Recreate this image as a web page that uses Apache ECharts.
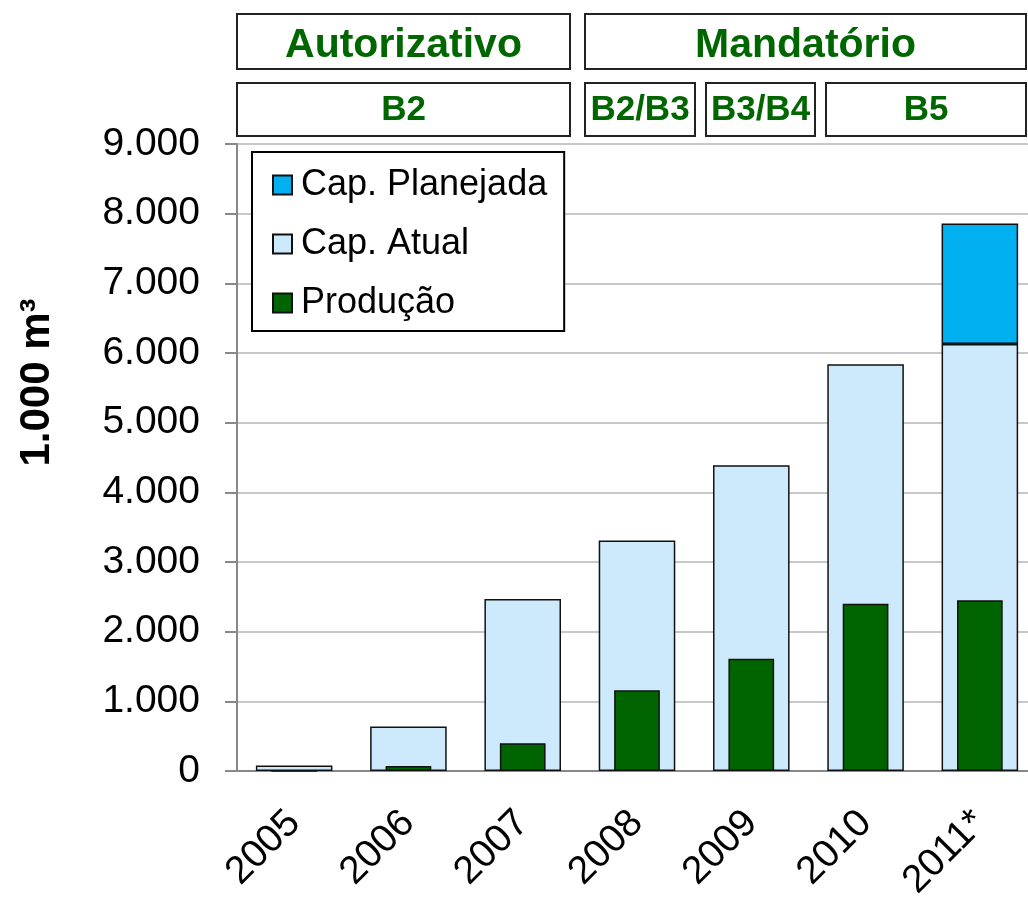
<!DOCTYPE html>
<html>
<head>
<meta charset="utf-8">
<script src="https://cdn.jsdelivr.net/npm/echarts@6/dist/echarts.min.js"></script>
<style>
  html, body { margin: 0; padding: 0; background: #fff; }
  #chart { width: 1028px; height: 900px; }
</style>
</head>
<body>
<div id="chart"></div>
<script>
// dados
var anos = ['2005', '2006', '2007', '2008', '2009', '2010', '2011*'];
var capAtual = [80, 640, 2470, 3310, 4390, 5840, 6130];
var capPlanejada = [null, null, null, null, null, null, 1730];
var producao = [1, 70, 400, 1160, 1610, 2400, 2450];
var rotulosY = ['0', '1.000', '2.000', '3.000', '4.000', '5.000', '6.000', '7.000', '8.000', '9.000'];
var regimes = ['Autorizativo', 'Mandatório'];
var misturas = ['B2', 'B2/B3', 'B3/B4', 'B5'];

var fonte = '"Liberation Sans", Arial, sans-serif';
var verde = '#006600';

// caixa de cabeçalho (retângulo + texto)
function caixa(x, y, w, h, texto, tam, dy) {
  return {
    type: 'group',
    children: [
      { type: 'rect', shape: { x: x, y: y, width: w, height: h },
        style: { fill: '#fff', stroke: '#222', lineWidth: 2 } },
      { type: 'text', x: x + w / 2, y: y + h / 2 + (dy || 0),
        style: { text: texto, fill: verde, font: 'bold ' + tam + 'px ' + fonte,
                 align: 'center', verticalAlign: 'middle' } }
    ]
  };
}

var myChart = echarts.init(document.getElementById('chart'));

var option = {
  animation: false,
  grid: { left: 237, top: 144, width: 800, height: 627, outerBoundsMode: 'none' },
  legend: {
    orient: 'vertical',
    left: 252,
    top: 152,
    padding: [15, 17, 10, 20],
    itemGap: 23,
    itemWidth: 19,
    itemHeight: 19,
    icon: 'rect',
    backgroundColor: '#fff',
    borderColor: '#000',
    borderWidth: 2,
    textStyle: { fontFamily: fonte, fontSize: 36, color: '#000', padding: [0, 0, 0, 4] },
    data: ['Cap. Planejada', 'Cap. Atual', 'Produção']
  },
  xAxis: [
    {
      type: 'category',
      data: anos,
      axisLine: { lineStyle: { color: '#888', width: 2 } },
      axisTick: { length: 12, lineStyle: { color: '#888', width: 2 } },
      axisLabel: { rotate: 45, margin: 46, fontFamily: fonte, fontSize: 39, color: '#000' }
    },
    {
      type: 'category',
      data: anos,
      show: false
    }
  ],
  yAxis: {
    type: 'value',
    min: 0,
    max: 9000,
    interval: 1000,
    name: '1.000 m³',
    nameLocation: 'middle',
    nameRotate: 90,
    nameGap: 179,
    nameTextStyle: { fontFamily: fonte, fontSize: 42, fontWeight: 'bold', color: '#000', padding: [0, 0, 0, 150] },
    axisLine: { show: true, lineStyle: { color: '#888', width: 2 } },
    axisTick: { show: true, length: 12, lineStyle: { color: '#888', width: 2 } },
    axisLabel: {
      margin: 37, fontFamily: fonte, fontSize: 39, color: '#000',
      formatter: function (v) { return rotulosY[Math.round(v / 1000)]; }
    },
    splitLine: { lineStyle: { color: '#c8c8c8', width: 2 } }
  },
  series: [
    {
      name: 'Cap. Atual',
      type: 'bar',
      stack: 'cap',
      xAxisIndex: 0,
      barWidth: '67%',
      data: capAtual,
      itemStyle: { color: '#cdeafd', borderColor: '#111', borderWidth: 1.5 }
    },
    {
      name: 'Cap. Planejada',
      type: 'bar',
      stack: 'cap',
      xAxisIndex: 0,
      barWidth: '67%',
      data: capPlanejada,
      itemStyle: { color: '#00b0f0', borderColor: '#111', borderWidth: 1.5 }
    },
    {
      name: 'Produção',
      type: 'bar',
      xAxisIndex: 1,
      barWidth: '40%',
      z: 3,
      data: producao,
      itemStyle: { color: '#006400', borderColor: '#111', borderWidth: 1.5 }
    }
  ],
  graphic: [
    caixa(237, 14, 333, 55, regimes[0], 41, 4),
    caixa(585, 14, 441, 55, regimes[1], 41, 4),
    caixa(237, 83, 333, 53, misturas[0], 35, 1),
    caixa(585, 83, 110, 53, misturas[1], 35, 1),
    caixa(706, 83, 109, 53, misturas[2], 35, 1),
    caixa(826, 83, 200, 53, misturas[3], 35, 1)
  ]
};

myChart.setOption(option);
</script>
</body>
</html>
